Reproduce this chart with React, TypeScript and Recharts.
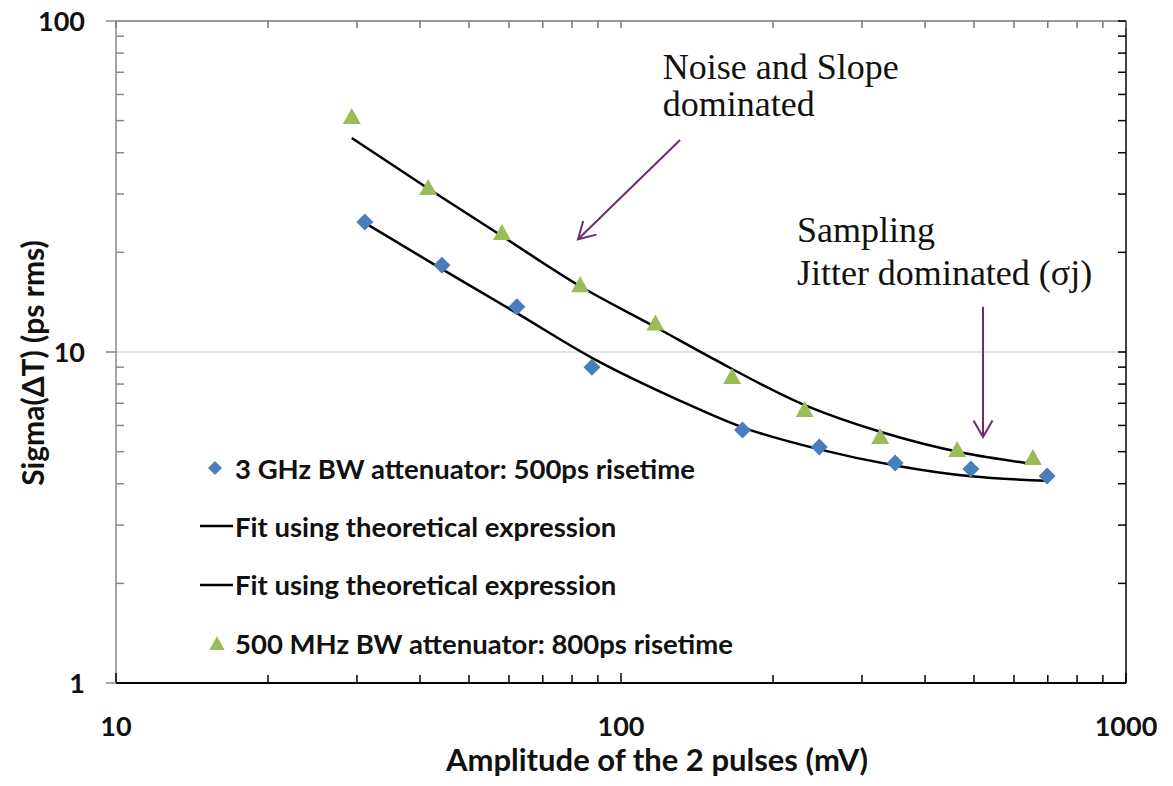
import React from "react";
import {
  ComposedChart,
  Scatter,
  Line,
  XAxis,
  YAxis,
  ReferenceLine,
  ReferenceDot,
  Legend,
  Label,
} from "recharts";

// axis ticks (log decades + minor ticks)
const X_TICKS = [10, 20, 30, 40, 50, 60, 70, 80, 90, 100, 200, 300, 400, 500, 600, 700, 800, 900, 1000];
const X_MAJOR = [10, 100, 1000];
const Y_TICKS = [1, 2, 3, 4, 5, 6, 7, 8, 9, 10, 20, 30, 40, 50, 60, 70, 80, 90, 100];
const Y_MAJOR = [1, 10, 100];

// measured points (amplitude mV, sigma ps rms)
const amp3GHz = [31.1, 44.2, 62.2, 87.6, 174, 247, 349, 493, 698];
const sigma3GHz = [24.7, 18.3, 13.7, 9.0, 5.81, 5.16, 4.62, 4.43, 4.22];
const amp500MHz = [29.3, 41.5, 58.1, 83.0, 117, 166, 231, 326, 463, 654];
const sigma500MHz = [51.3, 31.3, 22.9, 15.9, 12.2, 8.4, 6.68, 5.54, 5.06, 4.78];

// fit curves
const fitAmp3GHz = [31.3, 44.2, 62.2, 87.6, 131, 174, 247, 349, 493, 698];
const fitSigma3GHz = [24.4, 17.8, 13.1, 9.6, 7.12, 5.92, 5.08, 4.54, 4.21, 4.08];
const fitAmp500MHz = [29.3, 41.5, 58.1, 83.0, 117, 152, 233, 326, 475, 646];
const fitSigma500MHz = [44.3, 31.2, 22.4, 15.8, 11.9, 9.55, 6.87, 5.74, 4.96, 4.6];

const notes = [
  { text: "Noise and Slope", x: 121, y: 67 },
  { text: "dominated", x: 121, y: 51.5 },
  { text: "Sampling", x: 223, y: 21.5 },
  { text: "Jitter dominated (σj)", x: 223, y: 15.9 },
];
const arrows = [
  { from: { x: 130.9, y: 43.7 }, to: { x: 82.2, y: 21.9 } },
  { from: { x: 521, y: 13.7 }, to: { x: 521, y: 5.54 } },
];

const toPoints = (xs: number[], ys: number[]) => xs.map((x, i) => ({ x, y: ys[i] }));
const pts3GHz = toPoints(amp3GHz, sigma3GHz);
const pts500MHz = toPoints(amp500MHz, sigma500MHz);
const fit3GHz = toPoints(fitAmp3GHz, fitSigma3GHz);
const fit500MHz = toPoints(fitAmp500MHz, fitSigma500MHz);

const SANS = "Lato, 'Open Sans', sans-serif";
const SERIF = "'Liberation Serif', 'DejaVu Serif', serif";
const BLUE = "#4a7ebb";
const GREEN = "#9bbb59";
const PURPLE = "#6e2c6e";

function Diamond({ cx, cy, r = 8.5 }: any) {
  return <polygon points={`${cx},${cy - r} ${cx + r},${cy} ${cx},${cy + r} ${cx - r},${cy}`} fill={BLUE} />;
}

function Triangle({ cx, cy, s = 1 }: any) {
  return (
    <polygon
      points={`${cx},${cy - 9 * s} ${cx + 9 * s},${cy + 7 * s} ${cx - 9 * s},${cy + 7 * s}`}
      fill={GREEN}
    />
  );
}

function BottomTick({ x, y, payload }: any) {
  const major = X_MAJOR.includes(payload.value);
  return (
    <g>
      <line x1={x} x2={x} y1={y} y2={y - (major ? 10 : 8)} stroke="#000" strokeWidth={1.5} />
      {major && (
        <text x={x} y={y + 53} textAnchor="middle" fontFamily={SANS} fontWeight={700} fontSize={27} fill="#111">
          {payload.value}
        </text>
      )}
    </g>
  );
}

function TopTick({ x, y }: any) {
  return <line x1={x} x2={x} y1={y} y2={y + 7} stroke="#777" strokeWidth={1.5} />;
}

function LeftTick({ x, y, payload }: any) {
  const major = Y_MAJOR.includes(payload.value);
  if (major) {
    return (
      <g>
        <line x1={x - 10} x2={x} y1={y} y2={y} stroke="#888" strokeWidth={1.5} />
        <text x={x - 31} y={y + 10} textAnchor="end" fontFamily={SANS} fontWeight={700} fontSize={27} fill="#111">
          {payload.value}
        </text>
      </g>
    );
  }
  return <line x1={x} x2={x + 8} y1={y} y2={y} stroke="#888" strokeWidth={1.5} />;
}

function RightTick({ x, y }: any) {
  return <line x1={x - 8} x2={x} y1={y} y2={y} stroke="#000" strokeWidth={1.5} />;
}

function Arrow({ x1, y1, x2, y2 }: any) {
  const a = Math.atan2(y1 - y2, x1 - x2);
  const len = 19;
  const w = Math.PI / 6;
  return (
    <g stroke={PURPLE} strokeWidth={2} fill="none">
      <line x1={x1} y1={y1} x2={x2} y2={y2} />
      <polyline
        points={`${x2 + len * Math.cos(a + w)},${y2 + len * Math.sin(a + w)} ${x2},${y2} ${x2 + len * Math.cos(a - w)},${y2 + len * Math.sin(a - w)}`}
      />
    </g>
  );
}

function LegendContent({ payload }: any) {
  const rank: Record<string, number> = { diamond: 0, line: 1, triangle: 2 };
  const items = [...(payload ?? [])].sort((a, b) => rank[a.type] - rank[b.type]);
  return (
    <div style={{ fontFamily: SANS, fontWeight: 700, fontSize: 27.5, color: "#111", whiteSpace: "nowrap" }}>
      {items.map((e: any, i: number) => (
        <div key={i} style={{ display: "flex", alignItems: "center", height: 58.3 }}>
          <svg width={42} height={20}>
            {e.type === "diamond" && <Diamond cx={22} cy={10} r={7} />}
            {e.type === "triangle" && <Triangle cx={24} cy={11} s={0.85} />}
            {e.type === "line" && <line x1={7} x2={40} y1={10} y2={10} stroke="#000" strokeWidth={2.5} />}
          </svg>
          <span>{e.value}</span>
        </div>
      ))}
    </div>
  );
}

export default function App() {
  return (
    <div style={{ position: "absolute", left: 0, top: 0, background: "#fff" }}>
      <ComposedChart width={1173} height={786} margin={{ top: 20, right: 40, bottom: 13, left: 0 }}>
        <XAxis
          xAxisId="bottom"
          dataKey="x"
          type="number"
          scale="log"
          domain={[10, 1000]}
          allowDataOverflow
          ticks={X_TICKS}
          interval={0}
          tickSize={0}
          tickMargin={0}
          tick={<BottomTick />}
          axisLine={{ stroke: "#000", strokeWidth: 2 }}
          height={90}
        >
          <Label
            content={({ viewBox }: any) => (
              <text
                x={viewBox.x + viewBox.width / 2 + 36}
                y={viewBox.y + 88}
                textAnchor="middle"
                fontFamily={SANS}
                fontWeight={700}
                fontSize={31}
                fill="#111"
              >
                Amplitude of the 2 pulses (mV)
              </text>
            )}
          />
        </XAxis>
        <XAxis
          xAxisId="top"
          orientation="top"
          dataKey="x"
          type="number"
          scale="log"
          domain={[10, 1000]}
          allowDataOverflow
          ticks={X_TICKS}
          interval={0}
          tickSize={0}
          tickMargin={0}
          tick={<TopTick />}
          axisLine={{ stroke: "#777", strokeWidth: 1.5 }}
          height={1}
        />
        <YAxis
          yAxisId="left"
          dataKey="y"
          type="number"
          scale="log"
          domain={[1, 100]}
          allowDataOverflow
          ticks={Y_TICKS}
          interval={0}
          tickSize={0}
          tickMargin={0}
          tick={<LeftTick />}
          axisLine={{ stroke: "#888", strokeWidth: 1.5 }}
          width={116}
        >
          <Label
            content={({ viewBox }: any) => {
              const cx = viewBox.x + 32;
              const cy = viewBox.y + viewBox.height / 2 + 11;
              return (
                <text
                  x={cx}
                  y={cy}
                  transform={`rotate(-90 ${cx} ${cy})`}
                  textAnchor="middle"
                  dominantBaseline="central"
                  fontFamily={SANS}
                  fontWeight={700}
                  fontSize={30}
                  fill="#111"
                >
                  Sigma(ΔT) (ps rms)
                </text>
              );
            }}
          />
        </YAxis>
        <YAxis
          yAxisId="right"
          orientation="right"
          dataKey="y"
          type="number"
          scale="log"
          domain={[1, 100]}
          allowDataOverflow
          ticks={Y_TICKS}
          interval={0}
          tickSize={0}
          tickMargin={0}
          tick={<RightTick />}
          axisLine={{ stroke: "#000", strokeWidth: 1.5 }}
          width={7}
        />
        <ReferenceLine xAxisId="bottom" yAxisId="left" y={10} stroke="#c4c4c4" strokeWidth={1.2} />

        <Scatter
          name="3 GHz BW attenuator: 500ps risetime"
          data={pts3GHz}
          dataKey="y"
          xAxisId="bottom"
          yAxisId="left"
          shape={<Diamond />}
          legendType="diamond"
          fill={BLUE}
          isAnimationActive={false}
        />
        <Line
          name="Fit using theoretical expression"
          data={fit3GHz}
          dataKey="y"
          xAxisId="bottom"
          yAxisId="left"
          type="monotone"
          stroke="#000"
          strokeWidth={2.5}
          dot={false}
          legendType="line"
          isAnimationActive={false}
        />
        <Line
          name="Fit using theoretical expression"
          data={fit500MHz}
          dataKey="y"
          xAxisId="bottom"
          yAxisId="left"
          type="monotone"
          stroke="#000"
          strokeWidth={2.5}
          dot={false}
          legendType="line"
          isAnimationActive={false}
        />
        <Scatter
          name="500 MHz BW attenuator: 800ps risetime"
          data={pts500MHz}
          dataKey="y"
          xAxisId="bottom"
          yAxisId="left"
          shape={<Triangle />}
          legendType="triangle"
          fill={GREEN}
          isAnimationActive={false}
        />

        {arrows.map((a, i) => (
          <ReferenceLine
            key={`arrow-${i}`}
            xAxisId="bottom"
            yAxisId="left"
            segment={[a.from, a.to]}
            shape={<Arrow />}
          />
        ))}
        {notes.map((n, i) => (
          <ReferenceDot
            key={`note-${i}`}
            xAxisId="bottom"
            yAxisId="left"
            x={n.x}
            y={n.y}
            r={0}
            shape={({ cx, cy }: any) => (
              <text x={cx} y={cy} fontFamily={SERIF} fontSize={36} fill="#111">
                {n.text}
              </text>
            )}
          />
        ))}

        <Legend
          layout="vertical"
          align="center"
          verticalAlign="middle"
          content={<LegendContent />}
          wrapperStyle={{ position: "absolute", left: 193, top: 439, width: 620 }}
        />
      </ComposedChart>
    </div>
  );
}
